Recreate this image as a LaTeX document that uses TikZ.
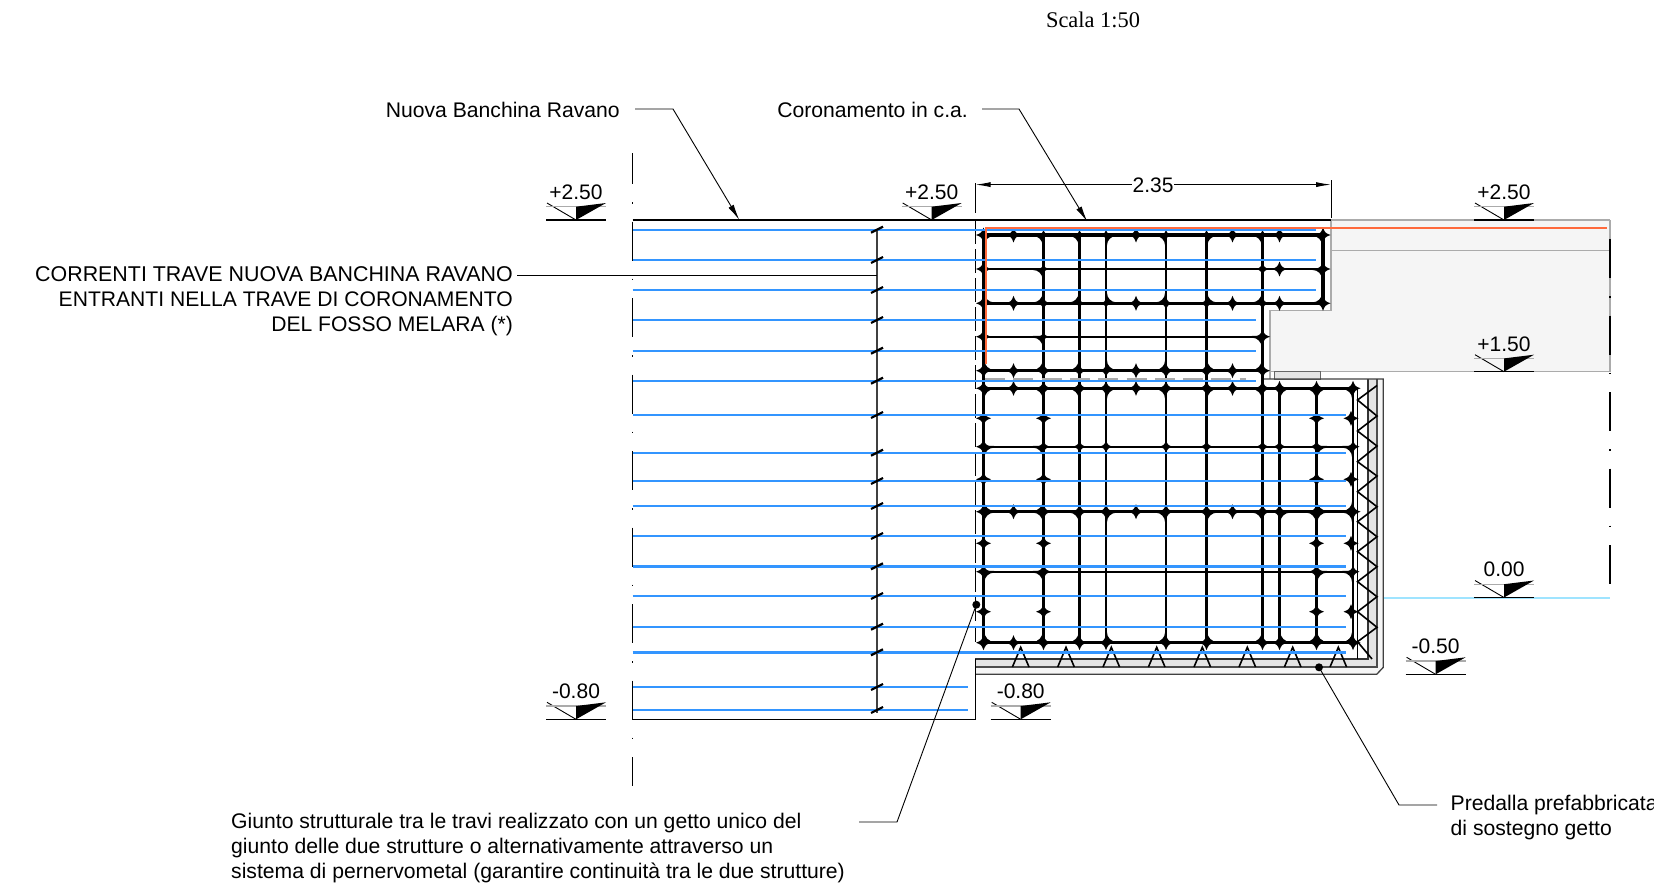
\documentclass[tikz,border=0pt]{standalone}
\usepackage{fontspec}
\setmainfont{Liberation Sans}
\newfontfamily\timesfont{Liberation Serif}
\usetikzlibrary{arrows.meta}
\definecolor{rebarblue}{HTML}{3395FF}
\definecolor{orangebar}{HTML}{FF6A3C}
\definecolor{skyline}{HTML}{9FE4FF}
\definecolor{concrete}{HTML}{F5F5F5}
\definecolor{band}{HTML}{E4E4E4}
\definecolor{edgegrey}{HTML}{ABABAB}
\tikzset{
  lbl/.style={font=\fontsize{21.15}{25}\selectfont,inner sep=0pt,align=left},
  lblr/.style={font=\fontsize{21.4}{25}\selectfont,inner sep=0pt,align=right},
  lvl/.style={font=\fontsize{21}{24}\selectfont,inner sep=0pt,anchor=base},
  leader/.style={draw=black,line width=0.9pt},
  cage/.style={draw=black,line width=2.3pt},
  cagethick/.style={draw=black,line width=3.1pt},
  blue bar/.style={draw=rebarblue,line width=2.4pt},
  axis line/.style={draw=black,line width=1.2pt,dash pattern=on 39pt off 18pt on 1.5pt off 18pt},
  tip/.style={-{Latex[length=16pt,width=6pt]}},
}
% level marker: apex at (#1,#2), text #3
\newcommand{\levelmark}[4]{%
  \node[lvl] (#4) at (#1,#2-20.7) {#3};
  \draw[line width=0.9pt] (#1-29,#2-17) -- (#1,#2);
  \draw[edgegrey,line width=1.2pt] (#1-30,#2-13.3) -- (#1+30,#2-13.3);
  \draw[line width=1.2pt] (#1-30,#2) -- (#1+30,#2);
  \fill (#1,#2) -- (#1,#2-13.3) -- (#1+30,#2-17) -- cycle;
}
% four-pointed bar mark
\newcommand{\barmark}[3]{%
  \fill (#1-#3-1.5,#2) .. controls (#1-0.35*#3,#2-0.35*#3) .. (#1,#2-#3-1.5)
     .. controls (#1+0.35*#3,#2-0.35*#3) .. (#1+#3+1.5,#2)
     .. controls (#1+0.35*#3,#2+0.35*#3) .. (#1,#2+#3+1.5)
     .. controls (#1-0.35*#3,#2+0.35*#3) .. cycle;
}
% one stirrup bend
\newcommand{\bend}[4]{%
  \filldraw[line width=1.9pt,line join=round] (#1,#2) -- (#1+1.3*#3,#2) .. controls (#1+0.585*#3,#2) and (#1,#2+0.585*#4) .. (#1,#2+1.3*#4) -- cycle;
}
% the four bends of a rounded cell
\newcommand{\fillet}[4]{%
  \bend{#1}{#2}{8}{8}\bend{#3}{#2}{-8}{8}\bend{#1}{#4}{8}{-8}\bend{#3}{#4}{-8}{-8}%
}
\begin{document}
\begin{tikzpicture}[x=1pt,y=-1pt]
\useasboundingbox (0,0) rectangle (1654,895);
% concrete behind
\path[fill=concrete] (1331,220) -- (1610,220) -- (1610,371.7) -- (1270,371.7) -- (1270,310.7) -- (1331,310.7) -- cycle;
\draw[edgegrey,line width=1.4pt] (1610,220) -- (1331,220) -- (1331,310.7) -- (1270,310.7) -- (1270,379);
\draw[edgegrey,line width=1.2pt] (1331,250.3) -- (1610,250.3);
\draw[edgegrey,line width=1.2pt] (1270,371.7) -- (1610,371.7);
\draw[edgegrey,line width=1.2pt] (1610,220) -- (1610,371.7);
\draw[fill=band,draw=black!60,line width=0.9pt] (1274.3,379) rectangle (1320.3,371.7);
% predalla shell
\path[fill=concrete] (975,667) -- (1377,667) -- (1377,379) -- (1383.3,379) -- (1383.3,667.3) -- (1376.7,674.3) -- (975,674.3) -- cycle;
\path[fill=band] (975,659) -- (1368,659) -- (1368,379) -- (1377,379) -- (1377,667) -- (975,667) -- cycle;
\draw[line width=1.1pt,black!80] (975,659) -- (1368,659) -- (1368,379);
\draw[line width=1.1pt,black!70] (975,667) -- (1377,667) -- (1377,379);
\draw[line width=1.3pt,black!75] (975,674.3) -- (1376.7,674.3) -- (1383.3,667.3) -- (1383.3,379) -- (1262,379);
\draw[line width=1.3pt] (1357.5,388) -- (1357.5,659);
% zigzag
\draw[line width=1.6pt,line join=miter]
  (1377,385.5) -- (1357.5,400) -- (1377,416) -- (1357.5,431) -- (1377,446) -- (1357.5,461.7)
  -- (1377,476) -- (1357.5,491.7) -- (1377,506.7) -- (1357.5,521.7) -- (1377,536.7) -- (1357.5,551.7)
  -- (1377,566.7) -- (1357.5,581.7) -- (1377,596.7) -- (1357.5,611.7) -- (1377,627.3) -- (1357.5,641.7) -- (1372,659);
% chevrons along the bottom
\foreach \cx in {1020.7,1066,1111.3,1156.7,1202.3,1247.3,1292.7,1338.3}
  \draw[line width=1.6pt,line join=miter] (\cx-8.3,667) -- (\cx,647.3) -- (\cx+8.3,667);
% cage: vertical bars
\draw[cagethick] (983.5,235) -- (983.5,642.7);
\foreach \bx in {1043.5,1079.5,1106,1166,1206.5,1262.5}
  \draw[cage] (\bx,235) -- (\bx,642.7);
\foreach \bx in {1279.5,1316.5}
  \draw[cage] (\bx,388.3) -- (\bx,642.7);
\draw[cagethick] (1323,235) -- (1323,303.3);
\draw[cage] (1353,388.3) -- (1353,642.7);
% cage: horizontal bars
\draw[cagethick] (983.5,235) -- (1323,235);
\draw[cage] (983.5,269) -- (1323,269);
\draw[cagethick] (983.5,303.3) -- (1323,303.3);
\draw[cage] (983.5,336.7) -- (1262.5,336.7);
\draw[cagethick] (983.5,370.7) -- (1262.5,370.7);
\draw[cagethick] (983.5,388.3) -- (1353,388.3);
\draw[cage] (983.5,446.7) -- (1353,446.7);
\draw[cagethick] (983.5,511.7) -- (1353,511.7);
\draw[cage] (983.5,571.7) -- (1353,571.7);
\draw[cagethick] (983.5,642.7) -- (1353,642.7);
% stirrup bends
\foreach \xa/\xb in {983.5/1043.5,1106/1166,1206.5/1262.5}{
  \fillet{\xa}{235}{\xb}{303.3}
  \bend{\xa}{370.7}{8}{-8}\bend{\xb}{370.7}{-8}{-8}
}
\bend{1043.5}{336.7}{-8}{8}
\bend{1079.5}{235}{-8}{8}
\bend{1079.5}{303.3}{-8}{-8}
\bend{1323}{235}{-8}{8}
\bend{1323}{303.3}{-8}{-8}
\bend{1323}{269}{-8}{8}
\bend{1043.5}{269}{-8}{8}
\bend{1262.5}{336.7}{-8}{8}
\bend{1079.5}{370.7}{-8}{-8}
\foreach \xa/\xb in {983.5/1043.5,1106/1166,1206.5/1262.5}{
  \bend{\xa}{388.3}{8}{8}\bend{\xb}{388.3}{-8}{8}
  \bend{\xa}{511.7}{8}{8}\bend{\xb}{511.7}{-8}{8}
  \bend{\xa}{642.7}{8}{-8}\bend{\xb}{642.7}{-8}{-8}
}
\foreach \xb in {1079.5,1316.5,1353}{
  \bend{\xb}{388.3}{-8}{8}\bend{\xb}{511.7}{-8}{8}\bend{\xb}{642.7}{-8}{-8}
}
\foreach \xa in {1279.5,1316.5}{
  \bend{\xa}{388.3}{8}{8}\bend{\xa}{511.7}{8}{8}\bend{\xa}{642.7}{8}{-8}
}
\fillet{983.5}{446.7}{1043.5}{511.7}
\fillet{1316.5}{446.7}{1353}{511.7}
\fillet{983.5}{571.7}{1043.5}{642.7}
\fillet{1316.5}{571.7}{1353}{642.7}
% bar marks
\foreach \bx/\by/\br in {
 983.5/235/6,1013.5/235/6,1043.5/235/4,1079.5/235/4,1106/235/4,1136/235/6,1166/235/4,1206.5/235/4,1232.5/235/6,1262.5/235/4,1279.5/235/6,1323/235/6,
 983.5/269/6,1043.5/269/4,1262.5/269/5,1279.5/269/6,1323/269/6,
 983.5/303.3/6,1013.5/303.3/6,1043.5/303.3/5,1079.5/303.3/4,1106/303.3/4,1136/303.3/6,1166/303.3/5,1206.5/303.3/5,1232.5/303.3/6,1262.5/303.3/5,1279.5/303.3/6,1323/303.3/6,
 983.5/336.7/6,1043.5/336.7/4,1262.5/336.7/6,
 983.5/370.7/6,1013.5/370.7/6,1043.5/370.7/6,1079.5/370.7/5,1106/370.7/5,1136/370.7/6,1166/370.7/6,1206.5/370.7/6,1232.5/370.7/6,1262.5/370.7/6,
 983.5/388.3/6,1013.5/388.3/6,1043.5/388.3/6,1079.5/388.3/6,1106/388.3/6,1136/388.3/6,1166/388.3/6,1206.5/388.3/6,1232.5/388.3/6,1262.5/388.3/6,1279.5/388.3/6,1316.5/388.3/6,1353/388.3/6,
 983.5/418.3/6,1043.5/418.3/6,1316.5/418.3/6,1351/418.3/6,
 983.5/446.7/6,1043.5/446.7/5,1079.5/446.7/5,1106/446.7/5,1166/446.7/5,1206.5/446.7/5,1262.5/446.7/5,1279.5/446.7/5,1316.5/446.7/5,1353/446.7/5,
 983.5/479.3/6,1043.5/479.3/6,1316.5/479.3/6,1351/479.3/6,
 983.5/511.7/6,1013.5/511.7/6,1043.5/511.7/6,1079.5/511.7/6,1106/511.7/6,1136/511.7/6,1166/511.7/6,1206.5/511.7/6,1232.5/511.7/6,1262.5/511.7/6,1279.5/511.7/6,1316.5/511.7/6,1353/511.7/6,
 983.5/543.3/6,1043.5/543.3/6,1316.5/543.3/6,1351/543.3/6,
 983.5/571.7/6,1043.5/571.7/6,1316.5/571.7/6,1353/571.7/5,
 983.5/611.7/6,1043.5/611.7/6,1316.5/611.7/6,1351/611.7/6,
 983.5/642.7/6,1013.5/642.7/6,1043.5/642.7/6,1079.5/642.7/6,1106/642.7/6,1166/642.7/6,1206.5/642.7/6,1262.5/642.7/6,1279.5/642.7/6,1316.5/642.7/6,1353/642.7/6}{
  \barmark{\bx}{\by}{\br}
}
% grey dashed line across the cage
\draw[edgegrey,line width=2pt,dash pattern=on 20pt off 8.3pt] (985,379.3) -- (1246,379.3);
% outline of the new beam
\draw[line width=1.3pt] (632.5,220) -- (1330.7,220);
\draw[line width=1.5pt] (632.5,719.3) -- (975.5,719.3) -- (975.5,659);
\draw[axis line,dash phase=8pt] (632.5,153) -- (632.5,786);
\draw[axis line] (1610,239) -- (1610,597);
\draw[line width=1.2pt] (975.5,183) -- (975.5,212.7);
\draw[line width=1.2pt,dash pattern=on 24pt off 5pt] (975.5,220) -- (975.5,642);
\draw[line width=0.9pt] (1331,180) -- (1331,218);
\draw[skyline,line width=2pt] (1384,598) -- (1610,598);
% vertical with break marks
\draw[line width=1.4pt,black!75] (877,229) -- (877,713);
% blue bars
\foreach \by/\bendx in {229.7/1315.7,260/1315.7,290/1315.7,320/1255.7,350.7/1255.7,380.7/1255.7,415/1346,452.7/1346,481/1346,506/1346,536/1346,566.3/1346,596/1346,626.7/1346,652.3/1346,687/968,710/968}{
  \draw[blue bar] (632.5,\by) -- (\bendx,\by);
  \draw[line width=2.2pt] (871,\by+3) -- (883,\by-3);
}
% orange bar
\draw[orangebar,line width=2.2pt] (986,364) -- (986,227.7) -- (1606.7,227.7);
% level markers
\levelmark{576}{220}{+2.50}{lvA}
\levelmark{931.7}{220}{+2.50}{lvB}
\levelmark{1504}{220}{+2.50}{lvC}
\levelmark{1504}{371.7}{+1.50}{lvD}
\levelmark{1504}{597.5}{0.00}{lvE}
\levelmark{1435.6}{674.3}{-0.50}{lvF}
\levelmark{576}{719.3}{-0.80}{lvG}
\levelmark{1020.7}{719.3}{-0.80}{lvH}
% dimension
\coordinate (dimL) at (975.5,184.6);
\coordinate (dimR) at (1331,184.6);
\draw[{Latex[length=15pt,width=5pt]}-{Latex[length=15pt,width=5pt]},line width=0.9pt] (dimL) -- (dimR);
\node[lvl,fill=white,inner sep=1pt,anchor=base] (dimT) at (1153,192) {2.35};
% title and labels
\node[font=\timesfont\fontsize{22.4}{24}\selectfont,inner sep=0pt] (scala) at (1093,20) {Scala 1:50};
\node[lbl,anchor=east] (nuova) at (620,110) {Nuova Banchina Ravano};
\coordinate (nuovaTip) at (739.3,220);
\coordinate (nuovaK) at (673,109);
\draw[leader,tip] (635,109) -- (nuovaK) -- (nuovaTip);
\node[lbl,anchor=east] (coron) at (968,110) {Coronamento in c.a.};
\coordinate (coronTip) at (1087.3,221.7);
\coordinate (coronK) at (1019,109);
\draw[leader,tip] (982,109) -- (coronK) -- (coronTip);
\node[lblr,anchor=east] (corr) at (513,301.4) {CORRENTI TRAVE NUOVA BANCHINA RAVANO\\\fontsize{21.1}{25}\selectfont ENTRANTI NELLA TRAVE DI CORONAMENTO\\\fontsize{21.1}{25}\selectfont DEL FOSSO MELARA (*)};
\coordinate (corrEnd) at (877,275.3);
\draw[leader] (517,275.3) -- (corrEnd);
\node[lbl,anchor=west] (giunto) at (231,848) {Giunto strutturale tra le travi realizzato con un getto unico del\\giunto delle due strutture o alternativamente attraverso un\\sistema di pernervometal (garantire continuità tra le due strutture)};
\fill (976.3,604.7) circle (4pt) coordinate (giuntoDot);
\draw[leader] (859,822) -- (897,822) -- (giuntoDot);
\node[lbl,anchor=west] (pred) at (1450.5,817.5) {Predalla prefabbricata\\di sostegno getto};
\fill (1319,667.3) circle (4pt) coordinate (predDot);
\draw[leader] (1437,805) -- (1399,805) -- (predDot);
\end{tikzpicture}
\end{document}
